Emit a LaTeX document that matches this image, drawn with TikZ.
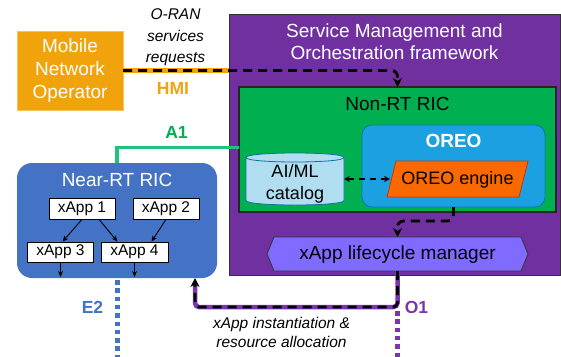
\documentclass[tikz,border=0pt]{standalone}
\usepackage{fontspec}
\setmainfont{Liberation Sans}
\usetikzlibrary{arrows.meta,calc}
\definecolor{smoc}{HTML}{7030A0}
\definecolor{nrtc}{HTML}{00B050}
\definecolor{oreoc}{HTML}{1BA1E2}
\definecolor{oreoedge}{HTML}{0F72B0}
\definecolor{engc}{HTML}{FA6800}
\definecolor{engedge}{HTML}{C73500}
\definecolor{catc}{HTML}{B1DDF0}
\definecolor{catedge}{HTML}{10739E}
\definecolor{nearc}{HTML}{4472C4}
\definecolor{mnoc}{HTML}{F0A30A}
\definecolor{mnoedge}{HTML}{F6C25E}
\definecolor{lcmc}{HTML}{7F6BFF}
\definecolor{aonec}{HTML}{22C27A}
\definecolor{oonec}{HTML}{7A35B0}
\begin{document}
\begin{tikzpicture}[x=1pt,y=-1pt,
  fbig/.style={font=\fontsize{19}{22.5}\selectfont},
  fmid/.style={font=\fontsize{18}{22}\selectfont},
  fsmall/.style={font=\fontsize{15.5}{19}\selectfont},
  itext/.style={font=\fontsize{15.5}{21.5}\selectfont\itshape},
  itextb/.style={font=\fontsize{15.5}{19}\selectfont\itshape},
  lab/.style={font=\fontsize{17.5}{20}\selectfont\bfseries},
  geom/.style={inner sep=0pt, outer sep=0pt},
  xapp/.style={draw=black, line width=0.8pt, fill=white, minimum width=66pt, minimum height=21pt, inner sep=0pt, fsmall},
  thinarrow/.style={-{Stealth[length=6pt,width=5pt]}, line width=0.9pt},
  dashblack/.style={dash pattern=on 9pt off 6pt, line width=2.8pt, black},
  bigtip/.style={-{Stealth[length=9pt,width=9pt]}},
  dotline/.style={line width=5pt, dash pattern=on 4.5pt off 3.8pt},
]
\useasboundingbox (0,0) rectangle (561,356);

% Service Management and Orchestration framework
\node[geom, draw=black!80, line width=1pt, fill=smoc, minimum width=331pt, minimum height=261pt] (smo) at (394.5,144.5) {};
\node[fbig, text=white, align=center] (smot) at (394.5,41.8) {Service Management and\\Orchestration framework};

% Non-RT RIC
\node[geom, draw=black!85, line width=1.1pt, fill=nrtc, minimum width=317pt, minimum height=125pt] (nrt) at (397.5,149.5) {};
\node[fbig] (nrtt) at (397.5,104.2) {Non-RT RIC};

% OREO
\node[geom, draw=oreoedge, line width=0.8pt, fill=oreoc, rounded corners=10pt, minimum width=183pt, minimum height=82pt] (oreo) at (453.5,166) {};
\node[font=\fontsize{19}{22}\selectfont\bfseries, text=white] (oreot) at (453.5,141.2) {OREO};

% OREO engine
\node[geom, minimum width=141pt, minimum height=36pt] (eng) at (457.5,179) {};
\draw[fill=engc, draw=engedge, line width=0.8pt] ([xshift=9pt]eng.north west) -- (eng.north east) -- ([xshift=-9pt]eng.south east) -- (eng.south west) -- cycle;
\node[fmid] (engt) at (457.5,180.3) {OREO engine};

% AI/ML catalog
\node[geom, minimum width=98pt, minimum height=52pt] (cat) at (295,179) {};
\draw[fill=catc, draw=catedge, line width=0.8pt] (246,157.5) -- (246,200.5) .. controls (246,206.5) and (344,206.5) .. (344,200.5) -- (344,157.5) .. controls (344,151.5) and (246,151.5) .. (246,157.5) -- cycle;
\draw[draw=catedge, line width=0.8pt] (246,157.5) .. controls (246,163.5) and (344,163.5) .. (344,157.5);
\node[fmid, align=center] (catt) at (295,183.4) {AI/ML\\catalog};

% xApp lifecycle manager
\node[geom, minimum width=261pt, minimum height=34pt] (lcm) at (397.5,254) {};
\draw[fill=lcmc, draw=black!80, line width=0.8pt] (lcm.west) -- ([xshift=7pt]lcm.north west) -- ([xshift=-7pt]lcm.north east) -- (lcm.east) -- ([xshift=-7pt]lcm.south east) -- ([xshift=7pt]lcm.south west) -- cycle;
\node[fbig] (lcmt) at (397.5,254.1) {xApp lifecycle manager};

% Mobile Network Operator
\node[geom, draw=mnoedge, line width=0.8pt, fill=mnoc, minimum width=106pt, minimum height=79pt, text=white, align=center, font=\fontsize{19}{23}\selectfont] (mno) at (70,70.5) {Mobile\\Network\\Operator};

% Near-RT RIC
\node[geom, fill=nearc, rounded corners=15pt, minimum width=200pt, minimum height=115pt] (near) at (117,220.5) {};
\node[fbig, text=white] (neart) at (117,180.2) {Near-RT RIC};
\node[xapp] (x1) at (82,208.5) {xApp 1};
\node[xapp] (x2) at (166,208.5) {xApp 2};
\node[xapp, minimum height=20pt] (x3) at (60.5,252) {xApp 3};
\node[xapp, minimum width=67pt, minimum height=20pt] (x4) at (134.5,252) {xApp 4};
\draw[thinarrow] (x1.south) -- ([xshift=2pt]x3.north);
\draw[thinarrow] ([xshift=17pt]x1.south) -- ([xshift=-17pt]x4.north);
\draw[thinarrow] (x2.south) -- ([xshift=17pt]x4.north);
\draw[thinarrow] (x3.south) -- ([yshift=1pt]x3.south |- near.south);
\draw[thinarrow] (x4.south) -- ([yshift=1pt]x4.south |- near.south);

% HMI
\draw[line width=4.5pt, mnoc] (mno.east) -- (mno.east -| smo.west);
\draw[dashblack, rounded corners=6pt, bigtip] (mno.east) -- (mno.east -| nrt.north) -- (nrt.north);

% A1
\draw[aonec, line width=3.5pt] (near.north) |- ([yshift=2pt]nrt.west);

% OREO -> lifecycle manager
\draw[dashblack, rounded corners=6pt, bigtip] (oreo.south) -- ++(0,14) -| (lcm.north);

% catalog <-> engine
\draw[line width=1.5pt, dash pattern=on 6pt off 5pt, {Stealth[length=6pt,width=6pt]}-{Stealth[length=6pt,width=6pt]}] (cat.east) -- ([xshift=3pt]eng.west);

% lifecycle manager -> Near-RT RIC
\coordinate (ret) at (195,307);
\draw[oonec, line width=4.5pt, rounded corners=4pt] (lcm.south) |- (ret) -- ([yshift=-6pt]ret |- near.south);
\draw[dashblack, rounded corners=4pt, bigtip] (lcm.south) |- (ret) -- (ret |- near.south);

% O1 and E2
\draw[oonec, dotline] ([yshift=-4pt]lcm.south |- ret) -- ++(0,46);
\draw[nearc, dotline] ([yshift=-2pt]near.south) -- ++(0,78);

% labels
\node[itext, align=center] (oran) at (175.5,37.5) {O-RAN\\services\\requests};
\node[lab, text=mnoc] (hmi) at (173,88.7) {HMI};
\node[lab, text=nrtc] (a1) at (176.5,132.7) {A1};
\node[lab, text=nearc] (e2) at (92.5,307.7) {E2};
\node[lab, text=oonec] (o1) at (416.5,307.7) {O1};
\node[itextb, align=center] (inst) at (281.5,332.9) {xApp instantiation \&\\resource allocation};
\end{tikzpicture}
\end{document}
